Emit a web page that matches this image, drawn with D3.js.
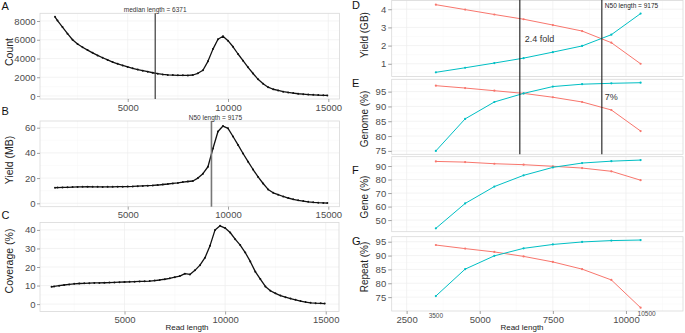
<!DOCTYPE html>
<html>
<head>
<meta charset="utf-8">
<script src="https://cdn.jsdelivr.net/npm/d3@7"></script>
<style>
  body { margin: 0; background: #fff; }
  svg { display: block; font-family: "Liberation Sans", Arial, sans-serif; }
</style>
</head>
<body>
<svg id="chart" width="685" height="333"></svg>
<script>
// ---- left column: read length distributions (A, B, C) ----
const readLen = [1375, 1500, 1750, 2000, 2250, 2500, 2750, 3000, 3250, 3500, 3750, 4000,
  4250, 4500, 4750, 5000, 5250, 5500, 5750, 6000, 6250, 6500, 6750, 7000, 7250, 7500,
  7750, 8000, 8250, 8500, 8750, 9000, 9250, 9500, 9750, 10000, 10250, 10500, 10750,
  11000, 11250, 11500, 11750, 12000, 12250, 12500, 12750, 13000, 13250, 13500, 13750,
  14000, 14250, 14500, 14750, 14950];

const countVals = [8450, 8050, 7350, 6650, 6000, 5550, 5200, 4900, 4600, 4330, 4080, 3850,
  3620, 3430, 3260, 3100, 2950, 2820, 2700, 2590, 2480, 2380, 2300, 2250, 2230, 2210,
  2200, 2190, 2240, 2420, 2750, 3700, 5000, 6050, 6380, 5900, 5250, 4480, 3770,
  3060, 2400, 1780, 1300, 940, 720, 590, 465, 380, 310, 240, 190,
  150, 120, 95, 75, 60];

const yieldMB = [12.4, 12.5, 12.6, 12.7, 12.9, 13.0, 13.1, 13.2, 13.1, 13.1, 13.0, 13.1,
  13.1, 13.2, 13.2, 13.3, 13.4, 13.6, 13.8, 14.0, 14.2, 14.5, 14.9, 15.3, 15.8, 16.2,
  16.8, 17.3, 17.7, 20.0, 23.5, 29.0, 43.5, 57.0, 61.3, 59.5, 53.0, 46.3, 39.5,
  33.0, 26.8, 20.9, 15.7, 11.0, 8.3, 6.8, 5.4, 4.2, 3.2, 2.4, 1.8,
  1.2, 0.8, 0.5, 0.3, 0.2];

const coveragePct = [9.3, 9.5, 9.9, 10.3, 10.6, 10.9, 11.1, 11.2, 11.3, 11.4, 11.4, 11.5,
  11.6, 11.7, 11.8, 11.9, 12.0, 12.1, 12.2, 12.3, 12.4, 12.7, 13.0, 13.4, 13.9, 14.5,
  15.1, 16.4, 16.0, 18.2, 21.0, 25.0, 31.5, 40.0, 42.2, 41.0, 38.6, 35.0, 31.8,
  27.8, 23.0, 17.5, 13.5, 9.5, 7.2, 5.8, 4.6, 3.7, 3.0, 2.3, 1.6,
  1.1, 0.7, 0.5, 0.4, 0.3];

const medianLen = 6371;
const n50Len = 9175;

// ---- right column: cutoff series (D, E, F, G) ----
const cutoffs = [3500, 4500, 5500, 6500, 7500, 8500, 9500, 10500];

const yieldGBRed = [4.25, 3.98, 3.71, 3.45, 3.13, 2.80, 2.16, 1.00];
const yieldGBTeal = [0.53, 0.78, 1.04, 1.31, 1.64, 1.98, 2.60, 3.76];
const genomeRed = [97.0, 96.2, 95.3, 94.4, 93.1, 91.5, 88.8, 81.7];
const genomeTeal = [75.0, 85.8, 91.5, 94.4, 96.7, 97.5, 97.8, 98.0];
const geneRed = [93.4, 92.9, 91.7, 91.0, 89.8, 88.5, 86.1, 79.5];
const geneTeal = [43.9, 62.3, 74.8, 83.1, 89.0, 92.2, 93.6, 94.4];
const repeatRed = [93.8, 92.5, 91.3, 89.7, 87.7, 85.1, 81.2, 71.2];
const repeatTeal = [75.4, 85.1, 89.9, 92.6, 94.0, 94.9, 95.4, 95.6];

const leftXTicks = [5000, 10000, 15000];
const leftXMinor = [2500, 7500, 12500];
const rightXTicks = [2500, 5000, 7500, 10000];
const rightXMinor = [3750, 6250, 8750, 11250];

const RED = '#F8766D';
const TEAL = '#00BFC4';

const svg = d3.select('#chart');
const plain = d3.format('~g');

function styleAxis(sel) {
  sel.select('.domain').remove();
  sel.selectAll('.tick line').attr('stroke', '#8a8a8a').attr('stroke-width', 0.8);
  sel.selectAll('.tick text')
    .attr('fill', '#4d4d4d')
    .style('font-size', '9.5px')
    .style('font-family', '"Liberation Sans", Arial, sans-serif');
}

// one ggplot-like panel: grid, border, axes
function panel(cfg) {
  const x = d3.scaleLinear().domain(cfg.xDomain).range([cfg.left, cfg.right]);
  const y = d3.scaleLinear().domain(cfg.yDomain).range([cfg.bottom, cfg.top]);
  const g = svg.append('g');

  const gridV = (vals, color, w) => g.selectAll(null).data(vals).enter().append('line')
    .attr('x1', d => x(d)).attr('x2', d => x(d))
    .attr('y1', cfg.top).attr('y2', cfg.bottom)
    .attr('stroke', color).attr('stroke-width', w);
  const gridH = (vals, color, w) => g.selectAll(null).data(vals).enter().append('line')
    .attr('x1', cfg.left).attr('x2', cfg.right)
    .attr('y1', d => y(d)).attr('y2', d => y(d))
    .attr('stroke', color).attr('stroke-width', w);

  gridV(cfg.xMinor, '#f6f6f6', 0.5);
  gridH(cfg.yMinor, '#f6f6f6', 0.5);
  gridV(cfg.xTicks, '#eeeeee', 0.7);
  gridH(cfg.yTicks, '#eeeeee', 0.7);

  g.append('rect')
    .attr('x', cfg.left).attr('y', cfg.top)
    .attr('width', cfg.right - cfg.left).attr('height', cfg.bottom - cfg.top)
    .attr('fill', 'none').attr('stroke', '#d9d9d9').attr('stroke-width', 0.8);

  const ya = g.append('g')
    .attr('transform', `translate(${cfg.left},0)`)
    .call(d3.axisLeft(y).tickValues(cfg.yTicks).tickFormat(plain)
      .tickSize(cfg.tick).tickPadding(cfg.pad));
  styleAxis(ya);

  if (cfg.xLabels) {
    const xa = g.append('g')
      .attr('transform', `translate(0,${cfg.bottom})`)
      .call(d3.axisBottom(x).tickValues(cfg.xTicks).tickFormat(plain)
        .tickSize(3).tickPadding(2));
    styleAxis(xa);
  }

  // axis title
  g.append('text')
    .attr('transform', `translate(${cfg.titleX},${cfg.titleY}) rotate(-90)`)
    .attr('text-anchor', 'middle')
    .attr('fill', '#222')
    .style('font-size', cfg.titleSize + 'px')
    .text(cfg.title);

  // panel letter
  g.append('text')
    .attr('x', cfg.letterX).attr('y', cfg.letterY)
    .attr('fill', '#111')
    .style('font-size', '11px')
    .text(cfg.letter);

  return { x, y, g, cfg };
}

function series(p, xs, ys, color, width, r) {
  const pts = xs.map((v, i) => [v, ys[i]]);
  p.g.append('path')
    .datum(pts)
    .attr('d', d3.line().x(d => p.x(d[0])).y(d => p.y(d[1])))
    .attr('fill', 'none')
    .attr('stroke', color)
    .attr('stroke-width', width)
    .attr('stroke-linejoin', 'round');
  p.g.selectAll(null).data(pts).enter().append('circle')
    .attr('cx', d => p.x(d[0]))
    .attr('cy', d => p.y(d[1]))
    .attr('r', r)
    .attr('fill', color);
}

// ---- left panels ----
const leftBase = {
  left: 40, right: 339.5, xTicks: leftXTicks, xMinor: leftXMinor,
  xLabels: true, tick: 3, pad: 1.5, titleX: 13, titleSize: 10.5, letterX: 1.5
};

const pA = panel(Object.assign({}, leftBase, {
  top: 13.3, bottom: 99, xDomain: [628, 15558], yDomain: [-320, 8821],
  yTicks: [0, 2000, 4000, 6000, 8000], yMinor: [1000, 3000, 5000, 7000],
  title: 'Count', titleY: 52, letter: 'A', letterY: 10
}));
const pB = panel(Object.assign({}, leftBase, {
  top: 121, bottom: 206.7, xDomain: [628, 15558], yDomain: [-2.7, 65.3],
  yTicks: [0, 20, 40, 60], yMinor: [10, 30, 50],
  title: 'Yield (MB)', titleY: 160, letter: 'B', letterY: 114.5
}));
const pC = panel(Object.assign({}, leftBase, {
  top: 222.5, bottom: 311.5, right: 339, xDomain: [800, 15660], yDomain: [-4, 44],
  yTicks: [0, 10, 20, 30, 40], yMinor: [5, 15, 25, 35],
  title: 'Coverage (%)', titleY: 261, letter: 'C', letterY: 218.5
}));

series(pA, readLen, countVals, '#111', 1.3, 1.0);
series(pB, readLen, yieldMB, '#111', 1.3, 1.0);
series(pC, readLen, coveragePct, '#111', 1.3, 1.0);

// median line (A)
pA.g.append('line')
  .attr('x1', pA.x(medianLen)).attr('x2', pA.x(medianLen))
  .attr('y1', pA.cfg.top).attr('y2', pA.cfg.bottom)
  .attr('stroke', '#3a3a3a').attr('stroke-width', 1.2);
pA.g.append('text')
  .attr('x', pA.x(medianLen)).attr('y', 11.5)
  .attr('text-anchor', 'middle').attr('fill', '#333')
  .style('font-size', '6.5px')
  .text('median length = ' + medianLen);

// N50 line (B)
pB.g.append('line')
  .attr('x1', pB.x(n50Len)).attr('x2', pB.x(n50Len))
  .attr('y1', pB.cfg.top).attr('y2', pB.cfg.bottom)
  .attr('stroke', '#777').attr('stroke-width', 1.6);
pB.g.append('text')
  .attr('x', pB.x(n50Len) + 4).attr('y', 120.3)
  .attr('text-anchor', 'middle').attr('fill', '#333')
  .style('font-size', '6.5px')
  .text('N50 length = ' + n50Len);

svg.append('text')
  .attr('x', 187).attr('y', 330)
  .attr('text-anchor', 'middle').attr('fill', '#222')
  .style('font-size', '8px')
  .text('Read length');

// ---- right panels ----
const rightBase = {
  left: 391.7, right: 683, xDomain: [1990, 11950], xTicks: rightXTicks, xMinor: rightXMinor,
  xLabels: false, tick: 3.5, pad: 2, titleX: 368, titleSize: 10, letterX: 352
};

const pD = panel(Object.assign({}, rightBase, {
  top: 0.5, bottom: 76.5, yDomain: [0.30, 4.48],
  yTicks: [1, 2, 3, 4], yMinor: [0.5, 1.5, 2.5, 3.5],
  title: 'Yield (GB)', titleY: 35, letter: 'D', letterY: 8.5
}));
const pE = panel(Object.assign({}, rightBase, {
  top: 79.3, bottom: 154.3, yDomain: [73.85, 99.15],
  yTicks: [75, 80, 85, 90, 95], yMinor: [77.5, 82.5, 87.5, 92.5, 97.5],
  title: 'Genome (%)', titleY: 119, letter: 'E', letterY: 87
}));
const pF = panel(Object.assign({}, rightBase, {
  top: 156.7, bottom: 231.7, yDomain: [41.4, 96.9],
  yTicks: [50, 60, 70, 80, 90], yMinor: [45, 55, 65, 75, 85, 95],
  title: 'Gene (%)', titleY: 197, letter: 'F', letterY: 173.5
}));
const pG = panel(Object.assign({}, rightBase, {
  top: 236.7, bottom: 311, yDomain: [70.0, 96.8],
  yTicks: [75, 80, 85, 90, 95], yMinor: [72.5, 77.5, 82.5, 87.5, 92.5],
  xLabels: true,
  title: 'Repeat (%)', titleY: 267, letter: 'G', letterY: 245
}));

series(pD, cutoffs, yieldGBRed, RED, 1, 1.1);
series(pD, cutoffs, yieldGBTeal, TEAL, 1, 1.1);
series(pE, cutoffs, genomeRed, RED, 1, 1.1);
series(pE, cutoffs, genomeTeal, TEAL, 1, 1.1);
series(pF, cutoffs, geneRed, RED, 1, 1.1);
series(pF, cutoffs, geneTeal, TEAL, 1, 1.1);
series(pG, cutoffs, repeatRed, RED, 1, 1.1);
series(pG, cutoffs, repeatTeal, TEAL, 1, 1.1);

// cut lines through D and E
[medianLen, n50Len].forEach(v => {
  svg.append('line')
    .attr('x1', pD.x(v)).attr('x2', pD.x(v))
    .attr('y1', pD.cfg.top - 0.5).attr('y2', pE.cfg.bottom)
    .attr('stroke', '#1a1a1a').attr('stroke-width', 1.1);
});

svg.append('text')
  .attr('x', pD.x(n50Len) + 3).attr('y', 8.3)
  .attr('fill', '#222').style('font-size', '6.5px')
  .text('N50 length = ' + n50Len);
svg.append('text')
  .attr('x', pD.x(medianLen) + 5).attr('y', 41.5)
  .attr('fill', '#333').style('font-size', '9px')
  .text('2.4 fold');
svg.append('text')
  .attr('x', pE.x(n50Len) + 3).attr('y', 100)
  .attr('fill', '#333').style('font-size', '9px')
  .text('7%');

// end-point labels under G axis
svg.append('text')
  .attr('x', pG.x(cutoffs[0])).attr('y', 318)
  .attr('text-anchor', 'middle').attr('fill', '#4d4d4d')
  .style('font-size', '6.5px')
  .text(cutoffs[0]);
svg.append('text')
  .attr('x', pG.x(cutoffs[cutoffs.length - 1]) - 3).attr('y', 315.5)
  .attr('fill', '#4d4d4d')
  .style('font-size', '6.5px')
  .text(cutoffs[cutoffs.length - 1]);

svg.append('text')
  .attr('x', 522).attr('y', 329.5)
  .attr('text-anchor', 'middle').attr('fill', '#222')
  .style('font-size', '8px')
  .text('Read length');
</script>
</body>
</html>
